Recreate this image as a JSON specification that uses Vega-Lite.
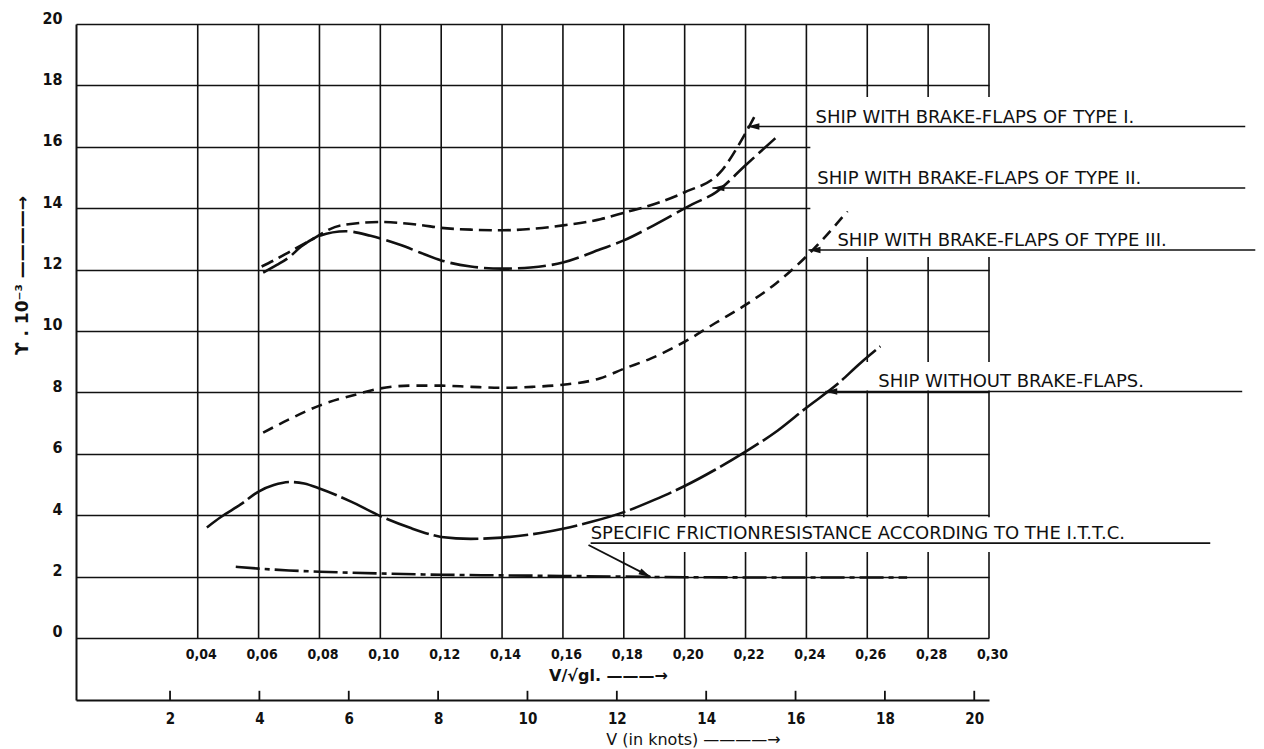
{
  "$schema": "https://vega.github.io/schema/vega-lite/v6.json",
  "width": 913,
  "height": 676,
  "autosize": {"type": "none"},
  "padding": {"left": 76, "top": 24, "right": 275, "bottom": 49},
  "background": "white",
  "config": {"view": {"stroke": null}, "font": "DejaVu Sans"},
  "datasets": {
    "gridF": [
      {"F": 0.04}, {"F": 0.06}, {"F": 0.08}, {"F": 0.10}, {"F": 0.12}, {"F": 0.14}, {"F": 0.16},
      {"F": 0.18}, {"F": 0.20}, {"F": 0.22}, {"F": 0.24}, {"F": 0.26}, {"F": 0.28}, {"F": 0.30}
    ],
    "knockouts": [
      {"F": 0.2413, "F2": 0.3037, "value": 17.62, "value2": 12.41},
      {"F": 0.2528, "F2": 0.3037, "value": 8.99, "value2": 8.06},
      {"F": 0.1658, "F2": 0.3037, "value": 3.93, "value2": 2.8}
    ],
    "curves": [
      {"series": "I", "F": 0.061, "value": 12.1},
      {"series": "I", "F": 0.066, "value": 12.35},
      {"series": "I", "F": 0.0705, "value": 12.6},
      {"series": "I", "F": 0.0761, "value": 12.9},
      {"series": "I", "F": 0.087, "value": 13.44},
      {"series": "I", "F": 0.10, "value": 13.55},
      {"series": "I", "F": 0.1132, "value": 13.45},
      {"series": "I", "F": 0.12, "value": 13.36},
      {"series": "I", "F": 0.13, "value": 13.3},
      {"series": "I", "F": 0.14, "value": 13.28},
      {"series": "I", "F": 0.15, "value": 13.33},
      {"series": "I", "F": 0.16, "value": 13.44},
      {"series": "I", "F": 0.1723, "value": 13.64},
      {"series": "I", "F": 0.18, "value": 13.85},
      {"series": "I", "F": 0.192, "value": 14.2},
      {"series": "I", "F": 0.20, "value": 14.52},
      {"series": "I", "F": 0.2118, "value": 15.18},
      {"series": "I", "F": 0.2177, "value": 16.05},
      {"series": "I", "F": 0.2206, "value": 16.55},
      {"series": "I", "F": 0.2233, "value": 17.05},

      {"series": "II", "F": 0.0615, "value": 11.9},
      {"series": "II", "F": 0.066, "value": 12.15},
      {"series": "II", "F": 0.07, "value": 12.4},
      {"series": "II", "F": 0.074, "value": 12.75},
      {"series": "II", "F": 0.08, "value": 13.1},
      {"series": "II", "F": 0.0886, "value": 13.25},
      {"series": "II", "F": 0.0968, "value": 13.1},
      {"series": "II", "F": 0.1067, "value": 12.8},
      {"series": "II", "F": 0.1132, "value": 12.55},
      {"series": "II", "F": 0.12, "value": 12.3},
      {"series": "II", "F": 0.1297, "value": 12.1},
      {"series": "II", "F": 0.14, "value": 12.03},
      {"series": "II", "F": 0.1494, "value": 12.07},
      {"series": "II", "F": 0.16, "value": 12.23},
      {"series": "II", "F": 0.1723, "value": 12.66},
      {"series": "II", "F": 0.18, "value": 12.95},
      {"series": "II", "F": 0.19, "value": 13.45},
      {"series": "II", "F": 0.2026, "value": 14.13},
      {"series": "II", "F": 0.21, "value": 14.5},
      {"series": "II", "F": 0.22, "value": 15.4},
      {"series": "II", "F": 0.2298, "value": 16.28},

      {"series": "III", "F": 0.0615, "value": 6.69},
      {"series": "III", "F": 0.07, "value": 7.12},
      {"series": "III", "F": 0.08, "value": 7.57},
      {"series": "III", "F": 0.0935, "value": 7.97},
      {"series": "III", "F": 0.10, "value": 8.13},
      {"series": "III", "F": 0.11, "value": 8.22},
      {"series": "III", "F": 0.12, "value": 8.22},
      {"series": "III", "F": 0.13, "value": 8.18},
      {"series": "III", "F": 0.14, "value": 8.15},
      {"series": "III", "F": 0.15, "value": 8.18},
      {"series": "III", "F": 0.16, "value": 8.25},
      {"series": "III", "F": 0.1723, "value": 8.46},
      {"series": "III", "F": 0.18, "value": 8.77},
      {"series": "III", "F": 0.1888, "value": 9.1},
      {"series": "III", "F": 0.20, "value": 9.65},
      {"series": "III", "F": 0.2101, "value": 10.26},
      {"series": "III", "F": 0.22, "value": 10.85},
      {"series": "III", "F": 0.23, "value": 11.55},
      {"series": "III", "F": 0.2407, "value": 12.5},
      {"series": "III", "F": 0.2535, "value": 13.9},

      {"series": "none", "F": 0.043, "value": 3.6},
      {"series": "none", "F": 0.0476, "value": 3.94},
      {"series": "none", "F": 0.0541, "value": 4.35},
      {"series": "none", "F": 0.06, "value": 4.77},
      {"series": "none", "F": 0.065, "value": 4.98},
      {"series": "none", "F": 0.0705, "value": 5.08},
      {"series": "none", "F": 0.075, "value": 5.03},
      {"series": "none", "F": 0.08, "value": 4.87},
      {"series": "none", "F": 0.0902, "value": 4.45},
      {"series": "none", "F": 0.10, "value": 3.97},
      {"series": "none", "F": 0.11, "value": 3.58},
      {"series": "none", "F": 0.1165, "value": 3.37},
      {"series": "none", "F": 0.12, "value": 3.29},
      {"series": "none", "F": 0.1297, "value": 3.23},
      {"series": "none", "F": 0.14, "value": 3.27},
      {"series": "none", "F": 0.1526, "value": 3.42},
      {"series": "none", "F": 0.16, "value": 3.56},
      {"series": "none", "F": 0.17, "value": 3.8},
      {"series": "none", "F": 0.18, "value": 4.1},
      {"series": "none", "F": 0.19, "value": 4.5},
      {"series": "none", "F": 0.20, "value": 4.95},
      {"series": "none", "F": 0.21, "value": 5.48},
      {"series": "none", "F": 0.22, "value": 6.07},
      {"series": "none", "F": 0.2305, "value": 6.75},
      {"series": "none", "F": 0.24, "value": 7.5},
      {"series": "none", "F": 0.2502, "value": 8.27},
      {"series": "none", "F": 0.2577, "value": 8.95},
      {"series": "none", "F": 0.2643, "value": 9.5},

      {"series": "ITTC", "F": 0.0525, "value": 2.32},
      {"series": "ITTC", "F": 0.06, "value": 2.26},
      {"series": "ITTC", "F": 0.07, "value": 2.2},
      {"series": "ITTC", "F": 0.08, "value": 2.16},
      {"series": "ITTC", "F": 0.10, "value": 2.1},
      {"series": "ITTC", "F": 0.12, "value": 2.06},
      {"series": "ITTC", "F": 0.14, "value": 2.04},
      {"series": "ITTC", "F": 0.16, "value": 2.02},
      {"series": "ITTC", "F": 0.18, "value": 2.0},
      {"series": "ITTC", "F": 0.20, "value": 1.98},
      {"series": "ITTC", "F": 0.24, "value": 1.97},
      {"series": "ITTC", "F": 0.2731, "value": 1.97}
    ],
    "labels": [
      {"name": "I", "text": "SHIP WITH BRAKE-FLAPS OF TYPE I.", "tx": 0.2430, "ux1": 0.2206, "ux2": 0.3842, "uy": 16.66},
      {"name": "II", "text": "SHIP WITH BRAKE-FLAPS OF TYPE II.", "tx": 0.2436, "ux1": 0.2091, "ux2": 0.3842, "uy": 14.66},
      {"name": "III", "text": "SHIP WITH BRAKE-FLAPS OF TYPE III.", "tx": 0.2502, "ux1": 0.2407, "ux2": 0.3875, "uy": 12.64},
      {"name": "none", "text": "SHIP WITHOUT BRAKE-FLAPS.", "tx": 0.2636, "ux1": 0.2462, "ux2": 0.3832, "uy": 8.03},
      {"name": "ITTC", "text": "SPECIFIC FRICTIONRESISTANCE ACCORDING TO THE I.T.T.C.", "tx": 0.1691, "ux1": 0.1691, "ux2": 0.3727, "uy": 3.09}
    ],
    "leader": [
      {"F": 0.1684, "value": 3.03, "F2": 0.1888, "value2": 1.99}
    ],
    "knots": [
      {"k": 2}, {"k": 4}, {"k": 6}, {"k": 8}, {"k": 10}, {"k": 12}, {"k": 14}, {"k": 16}, {"k": 18}, {"k": 20}
    ]
  },
  "layer": [
    {
      "data": {"name": "gridF"},
      "mark": {"type": "rule", "color": "#111", "strokeWidth": 1.6},
      "encoding": {
        "x": {"field": "F", "type": "quantitative", "scale": {"domain": [0, 0.3], "nice": false, "zero": false}, "axis": null},
        "y": {"datum": 0, "type": "quantitative", "scale": {"domain": [-2.02, 20], "nice": false, "zero": false}},
        "y2": {"datum": 20}
      }
    },
    {
      "data": {"name": "knockouts"},
      "mark": {"type": "rect", "color": "white"},
      "encoding": {
        "x": {"field": "F", "type": "quantitative", "scale": {"domain": [0, 0.3], "nice": false, "zero": false}, "axis": null},
        "x2": {"field": "F2"},
        "y": {"field": "value", "type": "quantitative", "scale": {"domain": [-2.02, 20], "nice": false, "zero": false}},
        "y2": {"field": "value2"}
      }
    },
    {
      "data": {"name": "curves"},
      "mark": {"type": "line", "color": "#111", "strokeWidth": 2.6, "interpolate": "monotone"},
      "encoding": {
        "x": {
          "field": "F", "type": "quantitative",
          "scale": {"domain": [0, 0.3], "nice": false, "zero": false},
          "axis": {
            "orient": "bottom", "offset": -62,
            "values": [0.04, 0.06, 0.08, 0.10, 0.12, 0.14, 0.16, 0.18, 0.20, 0.22, 0.24, 0.26, 0.28, 0.30],
            "format": ".2f", "labelExpr": "replace(datum.label, '.', ',')",
            "domain": false, "ticks": false, "grid": false,
            "labelFont": "DejaVu Sans Condensed", "labelFontWeight": "bold", "labelFontSize": 14,
            "labelColor": "#111", "labelPadding": 9, "labelFlush": false, "labelOverlap": false, "labelOffset": 3,
            "title": "V/√gl.  ———→", "titleX": 532, "titleY": 37, "titleAlign": "center", "titleBaseline": "middle",
            "titleFontSize": 16, "titleFontWeight": "bold", "titleColor": "#111"
          }
        },
        "y": {
          "field": "value", "type": "quantitative",
          "scale": {"domain": [-2.02, 20], "nice": false, "zero": false},
          "axis": {
            "values": [0, 2, 4, 6, 8, 10, 12, 14, 16, 18, 20],
            "grid": true, "gridColor": "#111", "gridWidth": 1.6, "gridOpacity": 1,
            "domain": true, "domainColor": "#111", "domainWidth": 2, "ticks": false,
            "labelFont": "DejaVu Sans Condensed", "labelFontWeight": "bold", "labelFontSize": 16,
            "labelColor": "#111", "labelPadding": 14, "labelOffset": -6, "labelOverlap": false,
            "title": "ϒ . 10⁻³  ————→", "titleX": -54, "titleY": 251, "titleAngle": -90,
            "titleAlign": "center", "titleBaseline": "middle",
            "titleFontSize": 17, "titleFontWeight": "bold", "titleColor": "#111"
          }
        },
        "detail": {"field": "series"},
        "strokeDash": {
          "field": "series", "type": "nominal", "legend": null,
          "scale": {
            "domain": ["I", "II", "III", "none", "ITTC"],
            "range": [[13, 6], [28, 6], [11, 7], [45, 5], [24, 5, 5, 5]]
          }
        }
      }
    },
    {
      "data": {"name": "labels"},
      "mark": {"type": "rule", "color": "#111", "strokeWidth": 1.6},
      "encoding": {
        "x": {"field": "ux1", "type": "quantitative", "scale": {"domain": [0, 0.3], "nice": false, "zero": false}, "axis": null},
        "x2": {"field": "ux2"},
        "y": {"field": "uy", "type": "quantitative", "scale": {"domain": [-2.02, 20], "nice": false, "zero": false}}
      }
    },
    {
      "data": {"name": "labels"},
      "transform": [{"filter": "datum.name != 'ITTC'"}],
      "mark": {"type": "point", "shape": "M0,0L1,-0.27L1,0.27Z", "size": 576, "filled": true, "color": "#111", "opacity": 1},
      "encoding": {
        "x": {"field": "ux1", "type": "quantitative", "scale": {"domain": [0, 0.3], "nice": false, "zero": false}, "axis": null},
        "y": {"field": "uy", "type": "quantitative", "scale": {"domain": [-2.02, 20], "nice": false, "zero": false}}
      }
    },
    {
      "data": {"name": "labels"},
      "mark": {"type": "text", "align": "left", "baseline": "alphabetic", "dy": -4, "fontSize": 18, "font": "DejaVu Sans", "color": "#111"},
      "encoding": {
        "x": {"field": "tx", "type": "quantitative", "scale": {"domain": [0, 0.3], "nice": false, "zero": false}, "axis": null},
        "y": {"field": "uy", "type": "quantitative", "scale": {"domain": [-2.02, 20], "nice": false, "zero": false}},
        "text": {"field": "text"}
      }
    },
    {
      "data": {"name": "leader"},
      "mark": {"type": "rule", "color": "#111", "strokeWidth": 1.8},
      "encoding": {
        "x": {"field": "F", "type": "quantitative", "scale": {"domain": [0, 0.3], "nice": false, "zero": false}, "axis": null},
        "x2": {"field": "F2"},
        "y": {"field": "value", "type": "quantitative", "scale": {"domain": [-2.02, 20], "nice": false, "zero": false}},
        "y2": {"field": "value2"}
      }
    },
    {
      "data": {"name": "leader"},
      "mark": {"type": "point", "shape": "M0,0L-1,-0.27L-1,0.27Z", "size": 576, "filled": true, "color": "#111", "opacity": 1, "angle": 27},
      "encoding": {
        "x": {"field": "F2", "type": "quantitative", "scale": {"domain": [0, 0.3], "nice": false, "zero": false}, "axis": null},
        "y": {"field": "value2", "type": "quantitative", "scale": {"domain": [-2.02, 20], "nice": false, "zero": false}}
      }
    },
    {
      "data": {"name": "knots"},
      "mark": {"type": "rule", "color": "#111", "strokeWidth": 1.8},
      "encoding": {
        "x": {
          "field": "k", "type": "quantitative",
          "scale": {"domain": [-0.105, 20.33], "nice": false, "zero": false},
          "axis": {
            "orient": "bottom",
            "values": [2, 4, 6, 8, 10, 12, 14, 16, 18, 20], "format": "d",
            "domain": true, "domainColor": "#111", "domainWidth": 2, "ticks": false, "grid": false,
            "labelFont": "DejaVu Sans Condensed", "labelFontWeight": "bold", "labelFontSize": 15,
            "labelColor": "#111", "labelPadding": 11, "labelFlush": false, "labelOverlap": false,
            "title": "V (in knots)  ————→", "titleX": 617, "titleY": 39, "titleAlign": "center", "titleBaseline": "middle",
            "titleFontSize": 16, "titleFontWeight": "normal", "titleColor": "#111"
          }
        },
        "y": {"datum": -2.02, "type": "quantitative", "scale": {"domain": [-2.02, 20], "nice": false, "zero": false}},
        "y2": {"datum": -1.72}
      }
    }
  ],
  "resolve": {"scale": {"x": "independent"}, "axis": {"x": "independent"}}
}
